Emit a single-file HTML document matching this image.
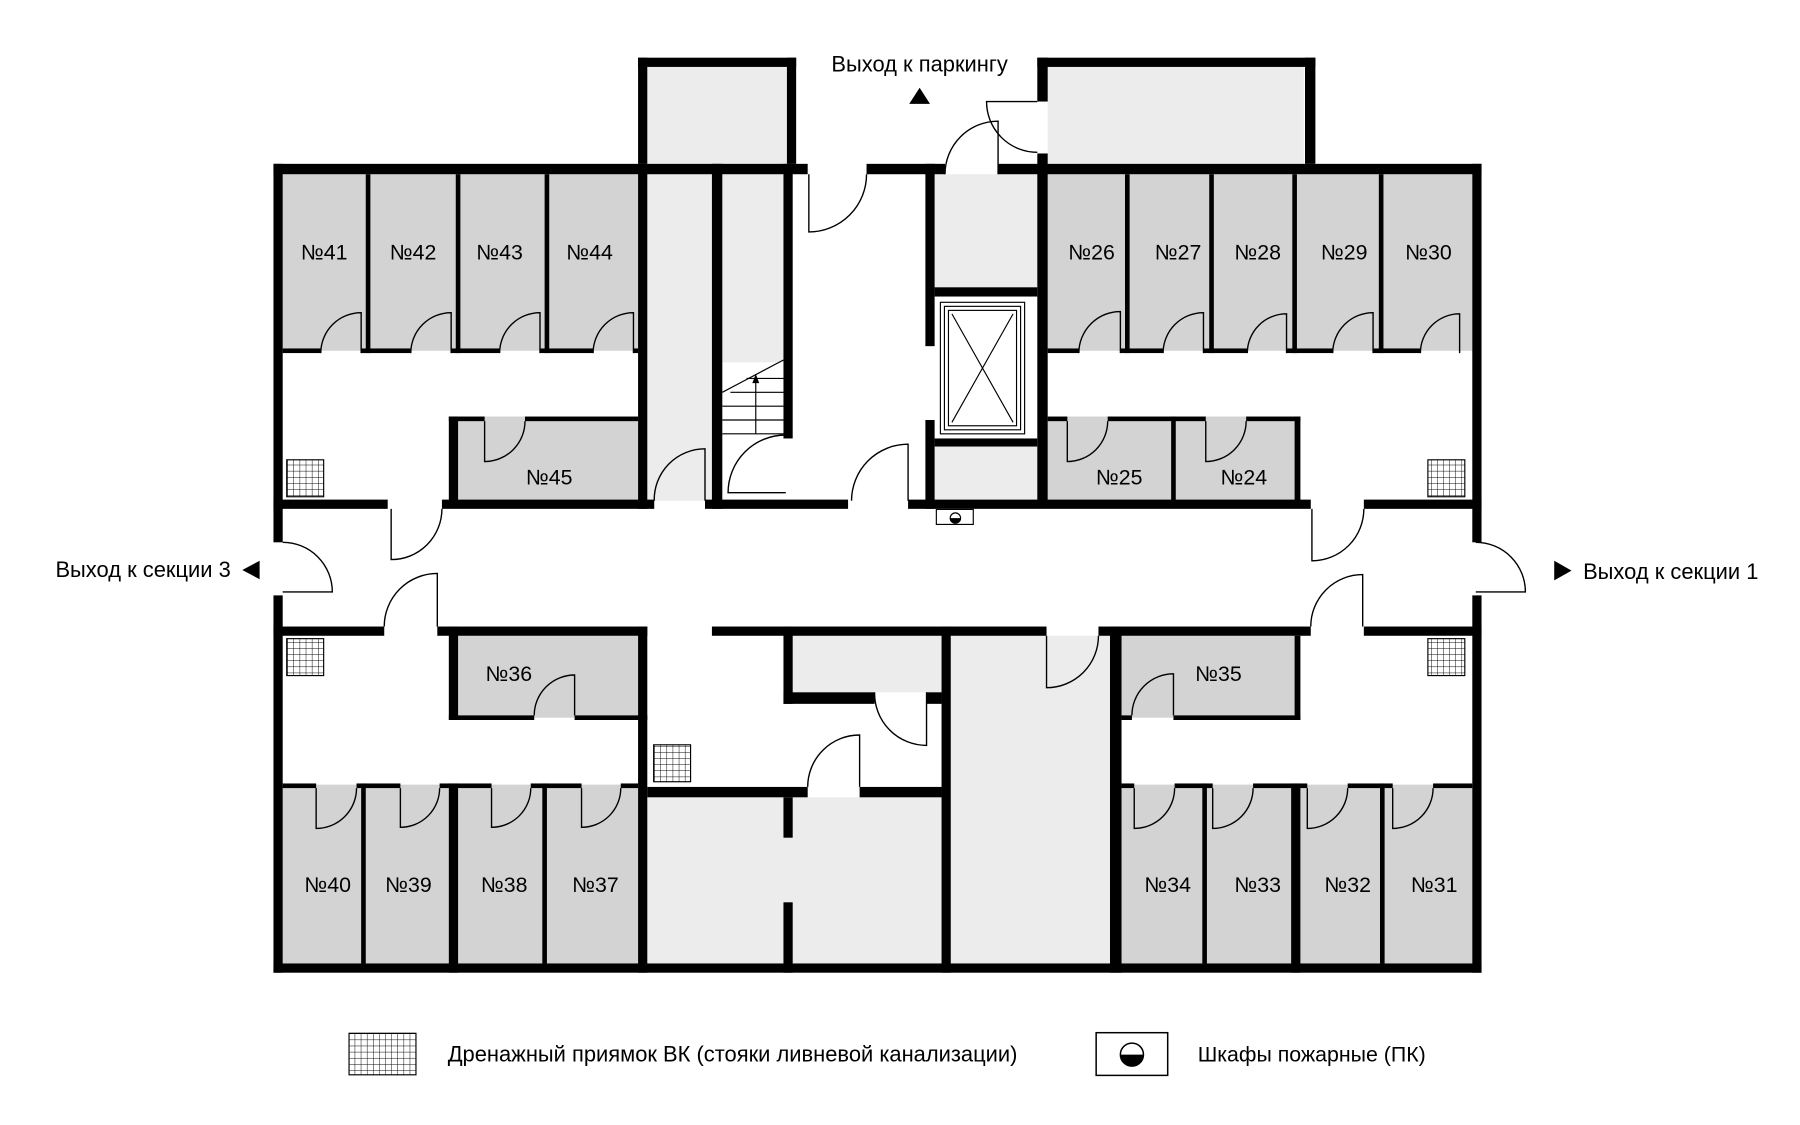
<!DOCTYPE html>
<html><head><meta charset="utf-8"><style>
html,body{margin:0;padding:0;background:#fff;}
svg{display:block;}
text{font-family:"Liberation Sans",sans-serif;fill:#000;}
</style></head><body>
<svg width="1800" height="1125" viewBox="0 0 1560 975" xmlns="http://www.w3.org/2000/svg">
<defs>
<pattern id="g" width="5.3" height="5.3" patternUnits="userSpaceOnUse"><path d="M0 0H5.3M0 0V5.3" stroke="#000" stroke-width="0.8" fill="none"/></pattern>
</defs>
<g fill="#d3d3d3">
<rect x="245" y="151" width="308" height="153"/>
<rect x="908" y="151" width="368" height="153"/>
<rect x="389" y="361" width="164" height="74"/>
<rect x="908" y="361" width="219" height="74"/>
<rect x="389" y="551" width="164" height="71"/>
<rect x="972" y="551" width="155" height="71"/>
<rect x="245" y="680" width="308" height="155"/>
<rect x="972" y="680" width="304" height="155"/>
</g>
<g fill="#ececec">
<rect x="561" y="58" width="121" height="84"/>
<rect x="561" y="151" width="56" height="283"/>
<rect x="626" y="151" width="53" height="163"/>
<rect x="810" y="151" width="89" height="98"/>
<rect x="810" y="387" width="89" height="47"/>
<rect x="908" y="58" width="222" height="84"/>
<rect x="687" y="551" width="129" height="49"/>
<rect x="561" y="691" width="255" height="144"/>
<rect x="824" y="551" width="138" height="284"/>
</g>
<g fill="#000">
<rect x="237" y="142" width="463" height="9"/>
<rect x="751" y="142" width="68" height="9"/>
<rect x="865" y="142" width="419" height="9"/>
<rect x="237" y="142" width="8" height="328"/>
<rect x="237" y="516" width="8" height="327"/>
<rect x="1276" y="142" width="8" height="328"/>
<rect x="1276" y="516" width="8" height="327"/>
<rect x="237" y="835" width="1047" height="8"/>
<rect x="553" y="50" width="8" height="92"/>
<rect x="553" y="50" width="137" height="8"/>
<rect x="682" y="50" width="8" height="92"/>
<rect x="899" y="50" width="9" height="38"/>
<rect x="899" y="133" width="9" height="18"/>
<rect x="899" y="50" width="241" height="8"/>
<rect x="1131" y="50" width="9" height="92"/>
<rect x="553" y="142" width="8" height="299"/>
<rect x="617" y="142" width="9" height="299"/>
<rect x="679" y="142" width="8" height="238"/>
<rect x="802" y="142" width="8" height="158"/>
<rect x="802" y="364" width="8" height="77"/>
<rect x="899" y="142" width="9" height="297"/>
<rect x="810" y="249" width="89" height="8"/>
<rect x="810" y="380" width="89" height="7"/>
<rect x="237" y="433" width="99" height="8"/>
<rect x="383" y="433" width="184" height="8"/>
<rect x="611" y="433" width="124" height="8"/>
<rect x="787" y="433" width="349" height="8"/>
<rect x="1182" y="433" width="102" height="8"/>
<rect x="237" y="543" width="96" height="8"/>
<rect x="379" y="543" width="182" height="8"/>
<rect x="617" y="543" width="290" height="8"/>
<rect x="952" y="543" width="184" height="8"/>
<rect x="1182" y="543" width="102" height="8"/>
<rect x="553" y="543" width="8" height="300"/>
<rect x="816" y="543" width="8" height="300"/>
<rect x="962" y="543" width="10" height="300"/>
<rect x="679" y="543" width="8" height="67"/>
<rect x="679" y="691" width="8" height="35"/>
<rect x="679" y="782" width="8" height="61"/>
<rect x="389" y="679" width="8" height="164"/>
<rect x="1119" y="679" width="8" height="164"/>
<rect x="679" y="600" width="79" height="10"/>
<rect x="803" y="600" width="13" height="10"/>
<rect x="561" y="682" width="139" height="9"/>
<rect x="745" y="682" width="71" height="9"/>
<rect x="389" y="361" width="8" height="74"/>
<rect x="389" y="361" width="31" height="4"/>
<rect x="455" y="361" width="98" height="4"/>
<rect x="908" y="361" width="17" height="4"/>
<rect x="960" y="361" width="85" height="4"/>
<rect x="1080" y="361" width="47" height="4"/>
<rect x="1122" y="361" width="5" height="74"/>
<rect x="1015" y="361" width="4" height="74"/>
<rect x="389" y="543" width="8" height="81"/>
<rect x="389" y="620" width="74" height="4"/>
<rect x="498" y="620" width="63" height="4"/>
<rect x="1122" y="551" width="5" height="73"/>
<rect x="972" y="620" width="9" height="4"/>
<rect x="1017" y="620" width="110" height="4"/>
<rect x="317" y="151" width="4" height="155"/>
<rect x="395" y="151" width="4" height="155"/>
<rect x="472" y="151" width="4" height="155"/>
<rect x="975" y="151" width="4" height="155"/>
<rect x="1048" y="151" width="4" height="155"/>
<rect x="1120" y="151" width="4" height="155"/>
<rect x="1195" y="151" width="4" height="155"/>
<rect x="245" y="302" width="33" height="4"/>
<rect x="313" y="302" width="43" height="4"/>
<rect x="391" y="302" width="42" height="4"/>
<rect x="468" y="302" width="46" height="4"/>
<rect x="549" y="302" width="4" height="4"/>
<rect x="908" y="302" width="27" height="4"/>
<rect x="971" y="302" width="37" height="4"/>
<rect x="1043" y="302" width="38" height="4"/>
<rect x="1115" y="302" width="40" height="4"/>
<rect x="1190" y="302" width="41" height="4"/>
<rect x="245" y="679" width="29" height="4"/>
<rect x="309" y="679" width="38" height="4"/>
<rect x="381" y="679" width="45" height="4"/>
<rect x="460" y="679" width="44" height="4"/>
<rect x="538" y="679" width="15" height="4"/>
<rect x="972" y="679" width="11" height="4"/>
<rect x="1018" y="679" width="33" height="4"/>
<rect x="1086" y="679" width="47" height="4"/>
<rect x="1168" y="679" width="39" height="4"/>
<rect x="1242" y="679" width="34" height="4"/>
<rect x="313" y="679" width="4" height="156"/>
<rect x="470" y="679" width="4" height="156"/>
<rect x="1042" y="679" width="4" height="156"/>
<rect x="1196" y="679" width="4" height="156"/>
</g>
<g fill="none" stroke="#000" stroke-width="1.2">
<path d="M313 306V271A35 35 0 0 0 278 306"/>
<path d="M391 306V271A35 35 0 0 0 356 306"/>
<path d="M468 306V271A35 35 0 0 0 433 306"/>
<path d="M549 306V271A35 35 0 0 0 514 306"/>
<path d="M971 306V270A36 36 0 0 0 935 306"/>
<path d="M1043 306V271A35 35 0 0 0 1008 306"/>
<path d="M1115 306V272A34 34 0 0 0 1081 306"/>
<path d="M1190 306V271A35 35 0 0 0 1155 306"/>
<path d="M1265 306V272A34 34 0 0 0 1231 306"/>
<path d="M420 365V400A35 35 0 0 0 455 365"/>
<path d="M925 365V400A35 35 0 0 0 960 365"/>
<path d="M1045 365V400A35 35 0 0 0 1080 365"/>
<path d="M701 151V201A50 50 0 0 0 751 151"/>
<path d="M865 151V105A46 46 0 0 0 819 151"/>
<path d="M899 88H855A44 44 0 0 0 899 132"/>
<path d="M611 434V389A44 44 0 0 0 567 434"/>
<path d="M681 427H631A50 50 0 0 1 681 377"/>
<path d="M787 434V385A49 49 0 0 0 738 434"/>
<path d="M339 441V485A44 44 0 0 0 383 441"/>
<path d="M379 543V497A46 46 0 0 0 333 543"/>
<path d="M1137 441V486A45 45 0 0 0 1182 441"/>
<path d="M1181 543V498A45 45 0 0 0 1136 543"/>
<path d="M245 513H288A43 43 0 0 0 245 470"/>
<path d="M1279 513H1322A43 43 0 0 0 1279 470"/>
<path d="M498 620V585A35 35 0 0 0 463 620"/>
<path d="M1017 620V584A36 36 0 0 0 981 620"/>
<path d="M274 683V718A35 35 0 0 0 309 683"/>
<path d="M347 683V717A34 34 0 0 0 381 683"/>
<path d="M426 683V717A34 34 0 0 0 460 683"/>
<path d="M504 683V717A34 34 0 0 0 538 683"/>
<path d="M983 683V718A35 35 0 0 0 1018 683"/>
<path d="M1051 683V718A35 35 0 0 0 1086 683"/>
<path d="M1133 683V718A35 35 0 0 0 1168 683"/>
<path d="M1207 683V718A35 35 0 0 0 1242 683"/>
<path d="M907 551V596A45 45 0 0 0 952 551"/>
<path d="M803 600V646A45 45 0 0 1 758 600"/>
<path d="M745 682V637A45 45 0 0 0 700 682"/>
</g>
<g stroke="#000" stroke-width="1" fill="none">
<path d="M626 340L679 312"/>
<path d="M647 328H679M633 340H679M626 352H679M626 364H679M626 376H679"/>
<path d="M655 376V327"/>
</g>
<path d="M655 324L652 332H658Z" fill="#000"/>
<g fill="none" stroke="#000" stroke-width="1">
<rect x="815" y="262" width="73" height="114" fill="#fff"/>
<rect x="818.5" y="265.5" width="66" height="107"/>
<rect x="822" y="269" width="59" height="100"/>
<path d="M825 272L878 366M878 272L825 366"/>
</g>
<rect x="811.5" y="441.5" width="32" height="13" fill="#fff" stroke="#000" stroke-width="1"/>
<circle cx="828" cy="449" r="4.5" fill="#fff" stroke="#000"/>
<path d="M823.5 449A4.5 4.5 0 0 0 832.5 449Z" fill="#000"/>
<g stroke="#000" stroke-width="1">
<rect x="248.5" y="398.5" width="32" height="32" fill="url(#g)"/>
<rect x="1237.5" y="398.5" width="32" height="32" fill="url(#g)"/>
<rect x="248.5" y="553.5" width="32" height="32" fill="url(#g)"/>
<rect x="1237.5" y="553.5" width="32" height="32" fill="url(#g)"/>
<rect x="566.5" y="645.5" width="32" height="32" fill="url(#g)"/>
<rect x="302.5" y="895.5" width="58" height="36" fill="url(#g)"/>
</g>
<rect x="950" y="895" width="62" height="37" fill="#fff" stroke="#000" stroke-width="1.3"/>
<circle cx="981" cy="914" r="10" fill="#fff" stroke="#000" stroke-width="1.3"/>
<path d="M971 914A10 10 0 0 0 991 914Z" fill="#000"/>
<path d="M788 90L797 76L806 90Z" fill="#000"/>
<path d="M225 486L225 502L210 494Z" fill="#000"/>
<path d="M1347 486L1347 503L1362 494.5Z" fill="#000"/>
<g font-size="18.5" text-anchor="middle">
<text x="281" y="225">№41</text><text x="358" y="225">№42</text><text x="433" y="225">№43</text><text x="511" y="225">№44</text>
<text x="946" y="225">№26</text><text x="1021" y="225">№27</text><text x="1090" y="225">№28</text><text x="1165" y="225">№29</text><text x="1238" y="225">№30</text>
<text x="476" y="420">№45</text><text x="970" y="420">№25</text><text x="1078" y="420">№24</text>
<text x="441" y="590">№36</text><text x="1056" y="590">№35</text>
<text x="284" y="773">№40</text><text x="354" y="773">№39</text><text x="437" y="773">№38</text><text x="516" y="773">№37</text>
<text x="1012" y="773">№34</text><text x="1090" y="773">№33</text><text x="1168" y="773">№32</text><text x="1243" y="773">№31</text>
</g>
<g font-size="19">
<text x="797" y="62" text-anchor="middle">Выход к паркингу</text>
<text x="200" y="500" text-anchor="end">Выход к секции 3</text>
<text x="1372" y="502">Выход к секции 1</text>
<text x="388" y="920">Дренажный приямок ВК (стояки ливневой канализации)</text>
<text x="1038" y="920" font-size="18.5">Шкафы пожарные (ПК)</text>
</g>
</svg>
</body></html>
